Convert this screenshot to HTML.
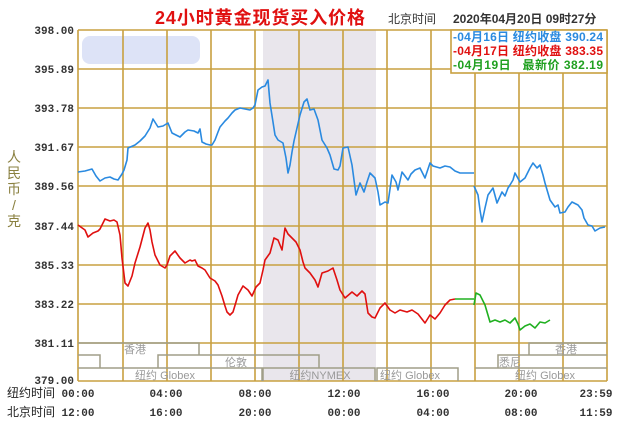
<!DOCTYPE html>
<html><head><meta charset="utf-8"><style>
html,body{margin:0;padding:0;background:#fff;width:637px;height:441px;overflow:hidden}
svg{display:block}
.m{font-family:"Liberation Mono","DejaVu Sans Mono",monospace;font-size:11px;font-weight:bold;fill:#333}
.c{font-family:"Liberation Sans","Noto Sans CJK SC",sans-serif}
</style></head><body>
<svg width="637" height="441" xmlns="http://www.w3.org/2000/svg">
<rect x="263" y="30" width="113" height="351" fill="#e9e6ec"/>
<rect x="82" y="36" width="118" height="28" rx="8" fill="#d4dcf5" opacity="0.8"/>
<g stroke="#c8a040" stroke-width="1.6" fill="none">
<path d="M78 30H607M78 69H607M78 108H607M78 147H607M78 186H607M78 226H607M78 265H607M78 304H607M78 343H607M78 381H607"/>
<path d="M78 30V381M123 30V381M167 30V381M211 30V381M255 30V381M299 30V381M343 30V381M387 30V381M431 30V381M475 30V381M519 30V381M563 30V381M607 30V381"/>
</g>
<rect x="451" y="30" width="156" height="43" fill="#fff" stroke="#c8a040" stroke-width="1.6"/>
<g class="c" font-size="12" font-weight="bold">
<text x="453" y="41" fill="#2a8ae0" textLength="150">-04月16日 纽约收盘 390.24</text>
<text x="453" y="55" fill="#e01010" textLength="150">-04月17日 纽约收盘 383.35</text>
<text x="453" y="69" fill="#20a020" textLength="150">-04月19日 &#160;&#160;最新价 382.19</text>
</g>
<text x="155" y="24" class="c" font-size="18" font-weight="bold" fill="#e01010" textLength="210">24小时黄金现货买入价格</text>
<text x="388" y="23" class="c" font-size="12" fill="#333">北京时间</text>
<text x="453" y="23" class="c" font-size="12" font-weight="bold" fill="#333">2020年04月20日 09时27分</text>
<g class="m" text-anchor="end">
<text x="74" y="34">398.00</text><text x="74" y="73">395.89</text><text x="74" y="112">393.78</text>
<text x="74" y="151">391.67</text><text x="74" y="190">389.56</text><text x="74" y="230">387.44</text>
<text x="74" y="269">385.33</text><text x="74" y="308">383.22</text><text x="74" y="347">381.11</text>
<text x="74" y="384">379.00</text>
</g>
<g class="c" font-size="14" fill="#8a8040" text-anchor="middle">
<text x="14" y="162">人</text><text x="14" y="178">民</text><text x="14" y="194">币</text><text x="14" y="210">/</text><text x="14" y="226">克</text>
</g>
<g stroke="#a09e88" stroke-width="1.5" fill="none">
<path d="M78 343H199V355M529 355V343H607"/>
<path d="M78 355H100V368M158 368V355H319V368M498 368V355H607"/>
<path d="M78 368H262V381M263 381V368H375V381M377 381V368H458V381M475 368H607"/>
</g>
<g class="c" font-size="11" fill="#999" text-anchor="middle">
<text x="135" y="353">香港</text><text x="566" y="353">香港</text>
<text x="236" y="366">伦敦</text><text x="510" y="366">悉尼</text>
<text x="165" y="379">纽约 Globex</text><text x="320" y="379">纽约NYMEX</text>
<text x="410" y="379">纽约 Globex</text><text x="545" y="379">纽约 Globex</text>
</g>
<g class="c" font-size="12" fill="#222"><text x="7" y="397">纽约时间</text><text x="7" y="416">北京时间</text></g>
<g class="m" text-anchor="middle">
<text x="78" y="397">00:00</text><text x="166" y="397">04:00</text><text x="255" y="397">08:00</text><text x="344" y="397">12:00</text><text x="433" y="397">16:00</text><text x="521" y="397">20:00</text><text x="596" y="397">23:59</text>
<text x="78" y="416">12:00</text><text x="166" y="416">16:00</text><text x="255" y="416">20:00</text><text x="344" y="416">00:00</text><text x="433" y="416">04:00</text><text x="521" y="416">08:00</text><text x="596" y="416">11:59</text>
</g>
<g fill="none" stroke-width="1.6" stroke-linejoin="round">
<polyline stroke="#2a8ae0" points="78,172 85,171 92,169 96,176 100,181 105,178 110,177 114,179 118,180 122,174 124,170 127,160 128,148 135,145 140,141 145,136 150,128 153,119 158,127 163,126 168,123 172,133 176,135 180,137 185,132 188,130 194,131 198,133 200,129 202,142 206,144 210,145 212,145 215,140 218,132 220,127 225,121 228,118 232,113 235,110 240,108 245,109 250,110 253,108 255,105 258,90 262,87 265,86 268,80 270,103 273,122 275,135 278,140 283,143 286,158 288,173 290,165 292,152 294,141 297,128 300,115 304,102 307,99 310,110 314,109 318,120 322,140 327,148 330,155 334,169 338,170 340,166 343,148 348,147 352,165 356,195 360,183 364,192 367,182 370,173 375,178 378,192 380,205 385,202 388,203 392,175 396,182 398,190 402,172 408,180 411,174 415,170 420,168 425,178 430,163 433,166 440,168 445,166 450,167 455,171 460,173 474,173"/>
<polyline stroke="#2a8ae0" points="474,186 478,195 480,210 482,222 485,208 488,195 493,188 497,203 502,192 505,196 508,188 510,185 513,180 515,173 520,182 525,178 530,168 533,163 537,168 540,165 543,175 545,183 550,200 555,207 558,205 560,213 565,212 568,207 572,202 578,205 582,210 584,218 588,225 592,226 595,231 600,228 605,227"/>
<polyline stroke="#e01010" points="78,225 85,230 88,237 93,233 98,231 100,229 105,219 110,221 114,220 117,222 120,235 122,258 125,283 128,286 132,276 135,263 140,247 145,228 148,223 150,230 152,242 155,255 160,265 165,268 167,265 170,256 175,251 180,258 185,263 190,260 192,261 195,260 198,266 202,268 205,270 210,278 215,281 218,285 222,296 225,306 227,312 230,315 233,312 236,302 238,295 243,286 248,290 252,296 256,287 260,283 263,270 265,260 270,253 274,238 278,240 282,250 285,228 288,234 292,238 296,242 300,250 303,262 305,268 310,273 315,280 318,287 322,273 328,271 333,268 337,280 340,290 345,298 352,292 357,296 362,291 365,294 368,313 372,317 375,318 380,308 385,303 390,310 395,313 400,310 407,312 412,310 418,314 425,323 430,315 435,319 440,313 445,305 450,300 455,299"/>
<polyline stroke="#20b020" points="455,299 474,299"/>
<polyline stroke="#20b020" points="474,305 476,293 480,295 485,305 490,322 495,320 500,322 505,320 510,323 515,318 518,324 520,330 525,326 530,324 535,328 540,322 545,323 550,320"/>
</g>
</svg>
</body></html>
